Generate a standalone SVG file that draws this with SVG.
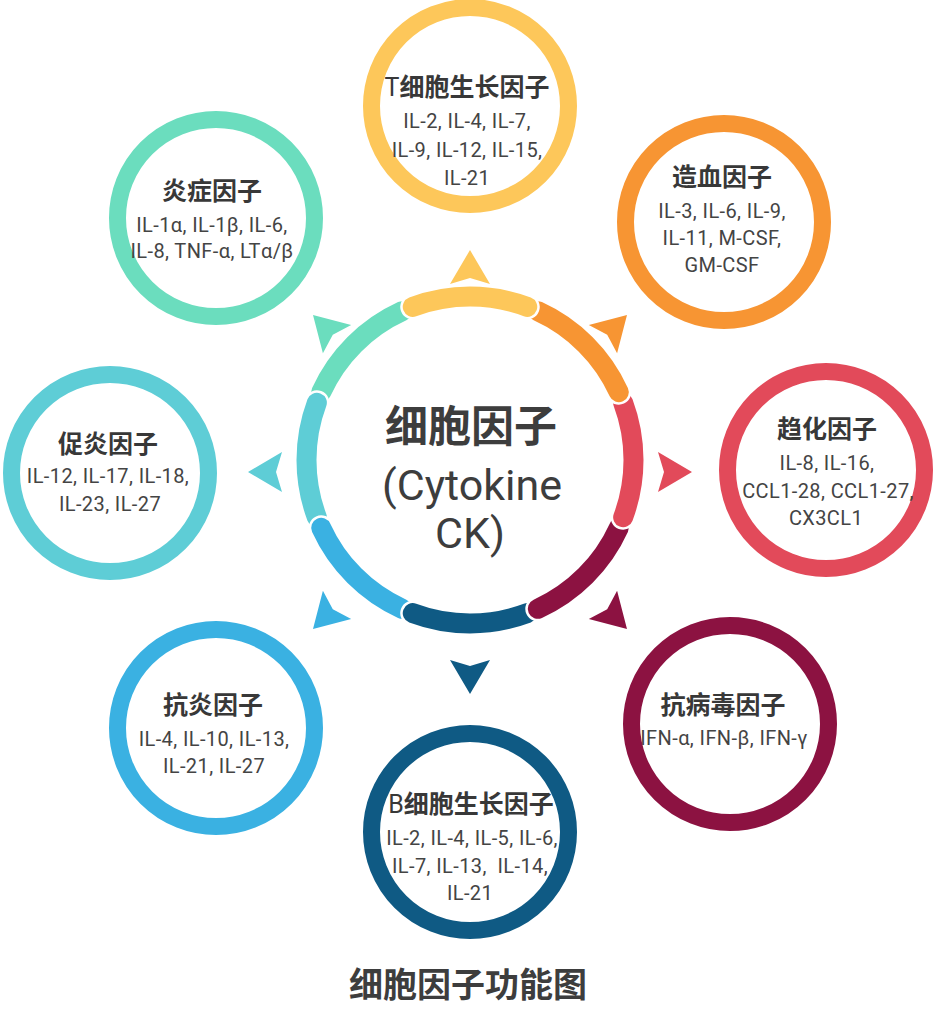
<svg xmlns="http://www.w3.org/2000/svg" xmlns:xlink="http://www.w3.org/1999/xlink" width="936" height="1012" viewBox="0 0 936 1012">
<style>
.ring{fill:#fff;stroke-width:17}
.seg{fill:none;stroke-width:20;stroke-linecap:round}
.segw{fill:none;stroke:#fff;stroke-width:25;stroke-linecap:round}
.t{font-family:Roboto,"Noto Sans CJK SC",sans-serif;font-weight:700;font-size:25px;fill:#383838;text-anchor:middle}
.t .l{font-weight:400}
.i{font-family:Roboto,"Noto Sans CJK SC",sans-serif;font-size:20px;fill:#444;text-anchor:middle;letter-spacing:0.4px}
.big{font-family:Roboto,"Noto Sans CJK SC",sans-serif;fill:#3d3d3d;text-anchor:middle}
</style>
<defs>
<path id="arr" d="M0 0 L20 34 L0 28 L-20 34 Z"/>
</defs>
<rect width="936" height="1012" fill="#fff"/>

<g id="center">
<path class="segw" d="M321.22 392.20 A163.5 163.5 0 0 1 402.20 311.22"/>
<path class="seg" stroke="#6BDDBE" d="M321.22 392.20 A163.5 163.5 0 0 1 402.20 311.22"/>
<path class="segw" d="M316.85 517.25 A163.5 163.5 0 0 1 316.85 402.75"/>
<path class="seg" stroke="#5ECDD6" d="M316.85 517.25 A163.5 163.5 0 0 1 316.85 402.75"/>
<path class="segw" d="M402.20 608.78 A163.5 163.5 0 0 1 321.22 527.80"/>
<path class="seg" stroke="#3AB1E2" d="M402.20 608.78 A163.5 163.5 0 0 1 321.22 527.80"/>
<path class="segw" d="M527.25 613.15 A163.5 163.5 0 0 1 412.75 613.15"/>
<path class="seg" stroke="#0F5A84" d="M527.25 613.15 A163.5 163.5 0 0 1 412.75 613.15"/>
<path class="segw" d="M618.78 527.80 A163.5 163.5 0 0 1 537.80 608.78"/>
<path class="seg" stroke="#8C1241" d="M618.78 527.80 A163.5 163.5 0 0 1 537.80 608.78"/>
<path class="segw" d="M623.15 402.75 A163.5 163.5 0 0 1 623.15 517.25"/>
<path class="seg" stroke="#E24A5A" d="M623.15 402.75 A163.5 163.5 0 0 1 623.15 517.25"/>
<path class="segw" d="M537.80 311.22 A163.5 163.5 0 0 1 618.78 392.20"/>
<path class="seg" stroke="#F79533" d="M537.80 311.22 A163.5 163.5 0 0 1 618.78 392.20"/>
<path class="segw" d="M412.75 306.85 A163.5 163.5 0 0 1 527.25 306.85"/>
<path class="seg" stroke="#FDC75A" d="M412.75 306.85 A163.5 163.5 0 0 1 527.25 306.85"/>
<text class="big" x="471" y="442" font-size="43" font-weight="700">细胞因子</text>
<text class="big" x="472" y="500" font-size="43">(Cytokine</text>
<text class="big" x="470" y="548" font-size="43">CK)</text>
</g>

<g id="connectors">
<use xlink:href="#arr" fill="#FDC75A" transform="translate(470,250)"/>
<use xlink:href="#arr" fill="#F79533" transform="translate(627,315) rotate(45)"/>
<use xlink:href="#arr" fill="#E24A5A" transform="translate(692,472) rotate(90)"/>
<use xlink:href="#arr" fill="#8C1241" transform="translate(627,629) rotate(135)"/>
<use xlink:href="#arr" fill="#0F5A84" transform="translate(470,694) rotate(180)"/>
<use xlink:href="#arr" fill="#3AB1E2" transform="translate(313,629) rotate(225)"/>
<use xlink:href="#arr" fill="#5ECDD6" transform="translate(248,472) rotate(270)"/>
<use xlink:href="#arr" fill="#6BDDBE" transform="translate(313,315) rotate(315)"/>
</g>

<g id="tcell">
<circle class="ring" cx="470" cy="106" r="98.5" stroke="#FDC75A"/>
<text class="t" x="467" y="96"><tspan class="l">T</tspan>细胞生长因子</text>
<text class="i" x="467" y="128">IL-2, IL-4, IL-7,</text>
<text class="i" x="467" y="157">IL-9, IL-12, IL-15,</text>
<text class="i" x="467" y="185">IL-21</text>
</g>

<g id="hematopoietic">
<circle class="ring" cx="724" cy="222" r="98.5" stroke="#F79533"/>
<text class="t" x="722" y="186">造血因子</text>
<text class="i" x="722" y="218">IL-3, IL-6, IL-9,</text>
<text class="i" x="722" y="245">IL-11, M-CSF,</text>
<text class="i" x="722" y="272">GM-CSF</text>
</g>

<g id="chemotactic">
<circle class="ring" cx="826" cy="470" r="98.5" stroke="#E24A5A"/>
<text class="t" x="827" y="438">趋化因子</text>
<text class="i" x="827" y="470">IL-8, IL-16,</text>
<text class="i" x="828" y="498">CCL1-28, CCL1-27,</text>
<text class="i" x="826" y="525">CX3CL1</text>
</g>

<g id="antiviral">
<circle class="ring" cx="730" cy="724" r="98.5" stroke="#8C1241"/>
<text class="t" x="723" y="714">抗病毒因子</text>
<text class="i" x="724" y="745">IFN-α, IFN-β, IFN-γ</text>
</g>

<g id="bcell">
<circle class="ring" cx="470" cy="832" r="98.5" stroke="#0F5A84"/>
<text class="t" x="471" y="813"><tspan class="l">B</tspan>细胞生长因子</text>
<text class="i" x="472" y="845">IL-2, IL-4, IL-5, IL-6,</text>
<text class="i" x="470" y="873" xml:space="preserve">IL-7, IL-13,  IL-14,</text>
<text class="i" x="470" y="900">IL-21</text>
</g>

<g id="antiinflammatory">
<circle class="ring" cx="216" cy="728" r="98.5" stroke="#3AB1E2"/>
<text class="t" x="213" y="714">抗炎因子</text>
<text class="i" x="214" y="746">IL-4, IL-10, IL-13,</text>
<text class="i" x="214" y="773">IL-21, IL-27</text>
</g>

<g id="proinflammatory">
<circle class="ring" cx="110" cy="473" r="98.5" stroke="#5ECDD6"/>
<text class="t" x="108" y="453">促炎因子</text>
<text class="i" x="108" y="483">IL-12, IL-17, IL-18,</text>
<text class="i" x="110" y="511">IL-23, IL-27</text>
</g>

<g id="inflammatory">
<circle class="ring" cx="216" cy="218" r="98.5" stroke="#6BDDBE"/>
<text class="t" x="212" y="200">炎症因子</text>
<text class="i" x="212" y="232">IL-1α, IL-1β, IL-6,</text>
<text class="i" x="212" y="258">IL-8, TNF-α, LTα/β</text>
</g>

<g id="caption">
<text class="big" x="468" y="997" font-size="34" font-weight="700">细胞因子功能图</text>
</g>
</svg>
